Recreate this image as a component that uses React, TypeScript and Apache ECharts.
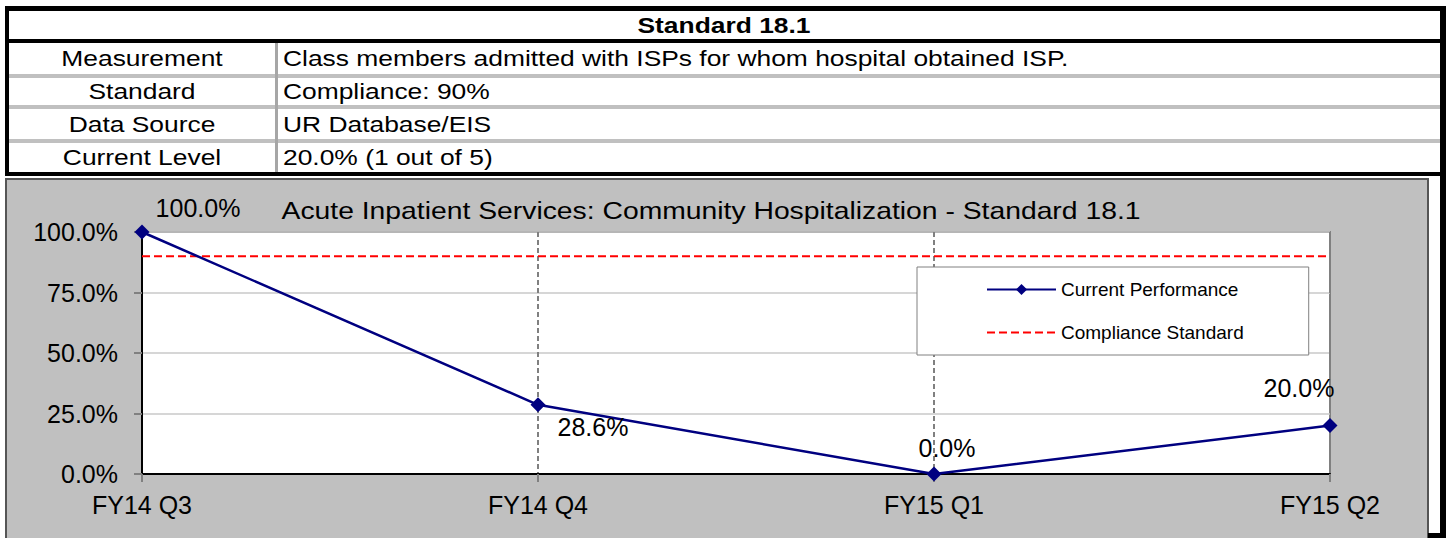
import React, { useEffect, useRef } from "react";
import * as echarts from "echarts";

const categories = ["FY14 Q3", "FY14 Q4", "FY15 Q1", "FY15 Q2"];
const performance = [100, 28.6, 0, 20];
const complianceStandard = [90, 90, 90, 90];
const yMin = 0;
const yMax = 100;
const yInterval = 25;

const tableTitle = "Standard 18.1";
const rowLabels = ["Measurement", "Standard", "Data Source", "Current Level"];
const rowValues = [
  "Class members admitted with ISPs for whom hospital obtained ISP.",
  "Compliance: 90%",
  "UR Database/EIS",
  "20.0% (1 out of 5)",
];
const chartTitle = "Acute Inpatient Services: Community Hospitalization - Standard 18.1";
const seriesNames = ["Current Performance", "Compliance Standard"];

// layout-only constants
const labelOffsets = [
  [56, -24],
  [55, 22],
  [13, -26],
  [-31, -38],
];
const rowCenters = [58, 91, 124, 157];
const FONT = "'Liberation Sans', Arial, Helvetica, sans-serif";
const SX = 1.2;

export default function App() {
  const ref = useRef<HTMLDivElement>(null);

  useEffect(() => {
    document.body.style.margin = "0";
    const chart = echarts.init(ref.current!, null, { renderer: "svg" });

    const graphics: any[] = [];
    // chart gray box
    graphics.push({
      type: "rect",
      z: -10,
      silent: true,
      shape: { x: 6, y: 179, width: 1422, height: 364 },
      style: { fill: "#c0c0c0", stroke: "#555555", lineWidth: 2 },
    });
    // outer borders of table
    graphics.push({ type: "rect", z: -5, silent: true, shape: { x: 5, y: 6, width: 4, height: 170 }, style: { fill: "#000" } });
    graphics.push({ type: "rect", z: -5, silent: true, shape: { x: 1440, y: 6, width: 6, height: 532 }, style: { fill: "#000" } });
    graphics.push({ type: "rect", z: -5, silent: true, shape: { x: 1428, y: 533, width: 18, height: 5 }, style: { fill: "#000" } });
    graphics.push({ type: "rect", z: -5, silent: true, shape: { x: 5, y: 6, width: 1441, height: 5 }, style: { fill: "#000" } });
    graphics.push({ type: "rect", z: -5, silent: true, shape: { x: 5, y: 39, width: 1441, height: 4 }, style: { fill: "#000" } });
    graphics.push({ type: "rect", z: -5, silent: true, shape: { x: 5, y: 172, width: 1441, height: 4 }, style: { fill: "#000" } });
    // gray separators
    [74, 105, 139].forEach((y) => {
      graphics.push({ type: "rect", z: -5, silent: true, shape: { x: 9, y, width: 1431, height: 4 }, style: { fill: "#c0c0c0" } });
    });
    // column divider
    graphics.push({ type: "rect", z: -5, silent: true, shape: { x: 275, y: 43, width: 3, height: 129 }, style: { fill: "#a6a6a6" } });

    // table title
    graphics.push({
      type: "text",
      x: 724,
      y: 25,
      scaleX: SX,
      style: { text: tableTitle, font: `bold 22px ${FONT}`, fill: "#000", textAlign: "center", textVerticalAlign: "middle" },
    });
    rowLabels.forEach((t, i) => {
      graphics.push({
        type: "text",
        x: 142,
        y: rowCenters[i],
        scaleX: SX,
        style: { text: t, font: `22px ${FONT}`, fill: "#000", textAlign: "center", textVerticalAlign: "middle" },
      });
      graphics.push({
        type: "text",
        x: 283,
        y: rowCenters[i],
        scaleX: SX,
        style: { text: rowValues[i], font: `22px ${FONT}`, fill: "#000", textAlign: "left", textVerticalAlign: "middle" },
      });
    });
    // chart title
    graphics.push({
      type: "text",
      x: 711,
      y: 211,
      scaleX: 1.18,
      style: { text: chartTitle, font: `24px ${FONT}`, fill: "#000", textAlign: "center", textVerticalAlign: "middle" },
    });

    chart.setOption({
      animation: false,
      backgroundColor: "#fff",
      textStyle: { fontFamily: FONT },
      graphic: graphics,
      grid: {
        left: 142,
        top: 232,
        width: 1188,
        height: 242,
        containLabel: false,
        show: true,
        backgroundColor: "#ffffff",
        borderColor: "#808080",
        borderWidth: 2,
      },
      legend: {
        orient: "vertical",
        left: 917,
        top: 267,
        itemWidth: 69,
        itemHeight: 14,
        itemGap: 24,
        padding: [13, 65, 13, 69],
        backgroundColor: "#ffffff",
        borderColor: "#808080",
        borderWidth: 1,
        textStyle: { fontSize: 19, color: "#000", fontFamily: FONT },
        data: [seriesNames[0], { name: seriesNames[1], itemStyle: { opacity: 0 } }],
      },
      xAxis: {
        type: "category",
        boundaryGap: false,
        data: categories,
        axisLine: { show: true, lineStyle: { color: "#000", width: 2 } },
        axisTick: { show: true, length: 8, lineStyle: { color: "#808080", width: 2 } },
        axisLabel: { fontSize: 25, color: "#000", margin: 18, fontFamily: FONT },
        splitLine: { show: true, lineStyle: { color: "#808080", width: 2, type: [5, 3] } },
      },
      yAxis: {
        type: "value",
        min: yMin,
        max: yMax,
        interval: yInterval,
        axisLine: { show: true, lineStyle: { color: "#000", width: 2 } },
        axisTick: { show: true, length: 8, lineStyle: { color: "#808080", width: 2 } },
        axisLabel: {
          fontSize: 25,
          color: "#000",
          margin: 24,
          fontFamily: FONT,
          formatter: (v: number) => v.toFixed(1) + "%",
        },
        splitLine: { show: true, lineStyle: { color: "#c8c8c8", width: 1.5 } },
      },
      series: [
        {
          name: seriesNames[0],
          type: "line",
          z: 5,
          data: performance.map((v, i) => ({
            value: v,
            label: { offset: labelOffsets[i] },
          })),
          symbol: "diamond",
          symbolSize: 15,
          lineStyle: { color: "#000080", width: 2.5 },
          itemStyle: { color: "#000080" },
          label: {
            show: true,
            position: "inside",
            align: "center",
            verticalAlign: "middle",
            fontSize: 25,
            color: "#000",
            fontFamily: FONT,
            formatter: (p: any) => Number(p.value).toFixed(1) + "%",
          },
        },
        {
          name: seriesNames[1],
          type: "line",
          z: 4,
          data: complianceStandard,
          symbol: "none",
          showSymbol: false,
          lineStyle: { color: "#ff0000", width: 2, type: [8, 4] },
          itemStyle: { color: "#ff0000", opacity: 0 },
        },
      ],
    });

    return () => chart.dispose();
  }, []);

  return <div ref={ref} style={{ width: 1447, height: 538 }} />;
}
